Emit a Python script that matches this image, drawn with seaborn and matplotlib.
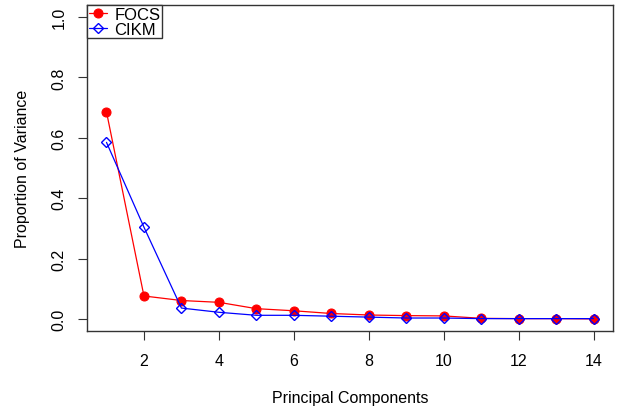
import numpy as np
import pandas as pd
import matplotlib
matplotlib.use('Agg')
import matplotlib.pyplot as plt
import seaborn as sns

# 数据：主成分方差比例
components = list(range(1, 15))
focs = [0.686, 0.076, 0.061, 0.055, 0.034, 0.027, 0.018, 0.013, 0.011, 0.010, 0.002, 0.001, 0.001, 0.0]
cikm = [0.585, 0.304, 0.036, 0.022, 0.012, 0.012, 0.009, 0.006, 0.003, 0.003, 0.001, 0.001, 0.001, 0.001]
y_ticks = [0.0, 0.2, 0.4, 0.6, 0.8, 1.0]
y_tick_labels = ['0.0', '0.2', '0.4', '0.6', '0.8', '1.0']

sns.set_style('ticks')
plt.rcParams['font.family'] = ['Liberation Sans', 'DejaVu Sans']
plt.rcParams['text.color'] = 'black'
plt.rcParams['axes.labelcolor'] = 'black'
plt.rcParams['xtick.color'] = '#333333'
plt.rcParams['ytick.color'] = '#333333'
plt.rcParams['xtick.labelcolor'] = 'black'
plt.rcParams['ytick.labelcolor'] = 'black'

fig = plt.figure(figsize=(6.17, 4.1), dpi=100)
ax = fig.add_axes([87 / 617, 1 - 332 / 410, (613 - 87) / 617, (332 - 6) / 410])

sns.lineplot(x=components, y=focs, ax=ax, color='red', marker='o', markersize=6.5,
             markeredgecolor='red', linewidth=0.9, label='FOCS')
sns.lineplot(x=components, y=cikm, ax=ax, color='blue', marker='D', markersize=5.5,
             markerfacecolor='none', markeredgecolor='blue', markeredgewidth=1.0,
             linewidth=0.9, label='CIKM')

ax.set_xlim(0.48, 14.52)
ax.set_ylim(-0.04, 1.04)
ax.set_xticks(range(2, 15, 2))
ax.set_yticks(y_ticks)
ax.set_yticklabels(y_tick_labels, rotation=90, va='center')
ax.tick_params(direction='out', length=6.5, width=0.8, labelsize=11.5)
ax.tick_params(axis='x', pad=9)
ax.tick_params(axis='y', pad=8)
for s in ax.spines.values():
    s.set_visible(True)
    s.set_color('#333333')
    s.set_linewidth(1.0)

ax.set_xlabel('Principal Components', fontsize=11.5, labelpad=16)
ax.set_ylabel('Proportion of Variance', fontsize=11.5, labelpad=16)

leg = ax.legend(loc='upper left', borderaxespad=0, frameon=True, fancybox=False,
                edgecolor='#333333', borderpad=0.1, handlelength=1.1, handletextpad=0.45,
                labelspacing=0.0, fontsize=12)
leg.get_frame().set_linewidth(1.0)
leg.get_frame().set_alpha(1)

fig.savefig('out.png', dpi=100)
